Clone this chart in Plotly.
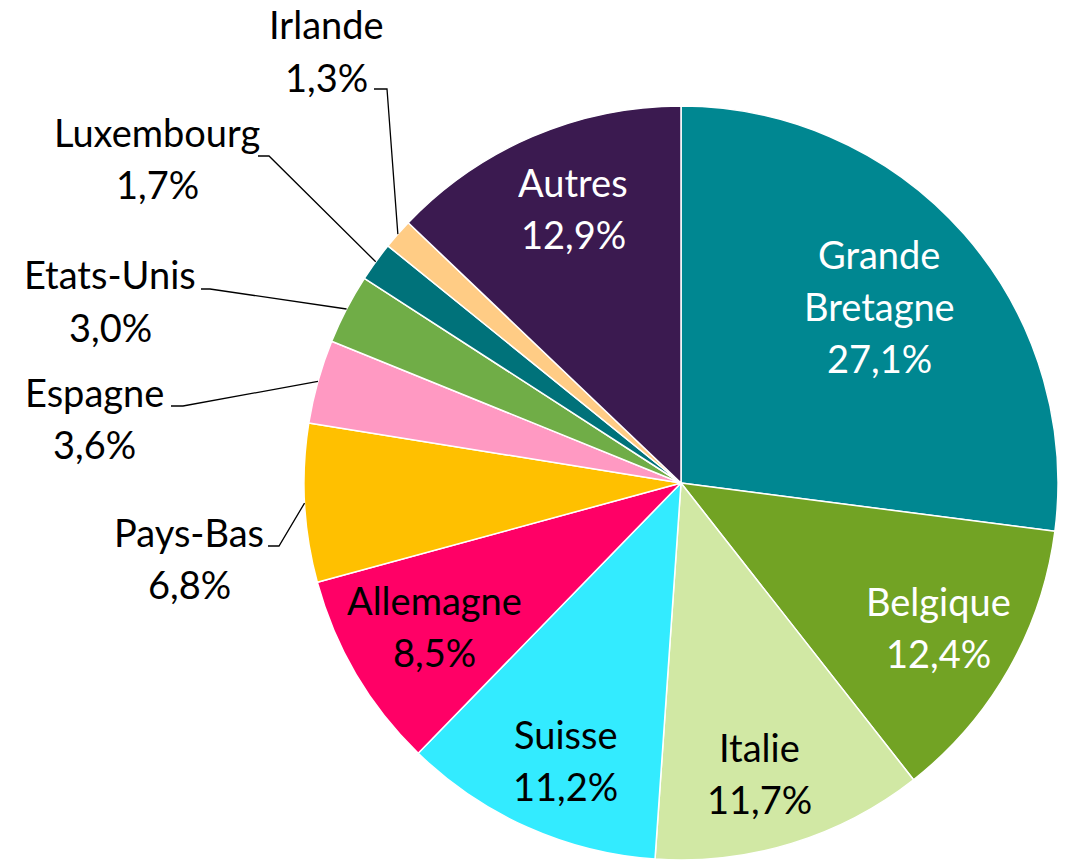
import math
import plotly.graph_objects as go

# ---- data ----
countries = ["Grande Bretagne", "Belgique", "Italie", "Suisse", "Allemagne", "Pays-Bas",
             "Espagne", "Etats-Unis", "Luxembourg", "Irlande", "Autres"]
label_lines = [["Grande", "Bretagne"], ["Belgique"], ["Italie"], ["Suisse"], ["Allemagne"],
               ["Pays-Bas"], ["Espagne"], ["Etats-Unis"], ["Luxembourg"], ["Irlande"], ["Autres"]]
shares = [27.1, 12.4, 11.7, 11.2, 8.5, 6.8, 3.6, 3.0, 1.7, 1.3, 12.9]

# ---- style ----
colors = ["#008791", "#72A324", "#D1E8A4", "#33EBFF", "#FF0066", "#FFC000",
          "#FF99C2", "#70AD47", "#00727A", "#FFCC85", "#3B1A50"]
text_colors = ["white", "white", "black", "black", "black", "black",
               "black", "black", "black", "black", "white"]
inside = [True, True, True, True, True, False, False, False, False, False, True]
inside_rfrac = [0.70, 0.785, 0.80, 0.80, 0.76, 0, 0, 0, 0, 0, 0.78]
inside_nudge = {2: (-10, 4), 3: (8, 4), 10: (8, -2)}
# outside labels: block centre (px) and leader start/elbow (px)
outside_pos = {5: (189, 560), 6: (94, 420), 7: (110, 303), 8: (157, 160), 9: (326, 53)}
outside_leader = {5: ((268, 546), (279, 546)), 6: ((171, 406), (183, 406)),
                  7: ((201, 289), (210, 289)), 8: ((258, 156), (269, 156)),
                  9: ((374, 89), (387, 89))}

W, H = 1069, 860
OFF = 0  # body margin removed via post_script
CX, CY, R = 681, 483, 377
FONT = "Lato"
FS = 38
LINE = 52

def px(x):
    return (x - OFF) / W

def py(y):
    return 1 - (y - OFF) / H

fig = go.Figure(go.Pie(
    labels=countries, values=shares, sort=False, direction="clockwise", rotation=0,
    marker=dict(colors=colors, line=dict(color="white", width=1.5)),
    textinfo="none", hoverinfo="label+percent", showlegend=False,
    domain=dict(x=[px(CX - R), px(CX + R)], y=[py(CY + R), py(CY - R)]),
))

total = sum(shares)
cum = 0
annotations = []
shapes = []
for i, v in enumerate(shares):
    mid = (cum + v / 2) / total * 2 * math.pi
    cum += v
    lines = label_lines[i] + [f"{v:.1f}".replace(".", ",") + "%"]
    if inside[i]:
        r = inside_rfrac[i] * R
        nx, ny = inside_nudge.get(i, (0, 0))
        bx, by = CX + r * math.sin(mid) + nx, CY - r * math.cos(mid) + ny
    else:
        bx, by = outside_pos[i]
        (sx, sy), (ex, ey) = outside_leader[i]
        tx, ty = CX + R * math.sin(mid), CY - R * math.cos(mid)
        shapes.append(dict(type="path", xref="paper", yref="paper",
                           path=f"M {px(sx)} {py(sy)} L {px(ex)} {py(ey)} L {px(tx)} {py(ty)}",
                           line=dict(color="black", width=1.3)))
    n = len(lines)
    for k, t in enumerate(lines):
        yy = by + (k - (n - 1) / 2) * LINE - 2.5
        annotations.append(dict(text=t, x=px(bx), y=py(yy), xref="paper", yref="paper",
                                xanchor="center", yanchor="middle", showarrow=False,
                                height=44,
                                font=dict(family=FONT, size=FS, color=text_colors[i])))

fig.update_layout(width=W, height=H, margin=dict(l=0, r=0, t=0, b=0),
                  paper_bgcolor="white", plot_bgcolor="white",
                  annotations=annotations, shapes=shapes)
fig.write_html("out.html", config={"displayModeBar": False},
               post_script="document.body.style.margin='0';")
